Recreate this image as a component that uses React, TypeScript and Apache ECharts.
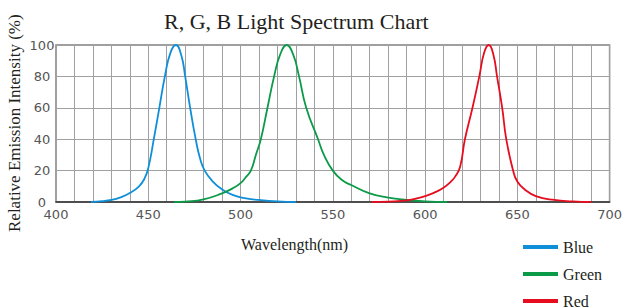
import React, { useEffect, useRef } from "react";
import * as echarts from "echarts";

const seriesNames = ["Blue", "Green", "Red"];
const seriesColors = ["#0f8fd8", "#0b9a48", "#e60d1e"];

// [wavelength nm, relative intensity %]
const blueSpectrum: number[][] = [
  [419, 0], [425, 0.5], [430, 1.3], [435, 3], [440, 5.7], [445, 10], [448, 15],
  [450, 21.6], [453, 40], [456, 60], [459, 80], [462, 95], [465, 100], [468, 93],
  [470, 80], [472.7, 60], [475.7, 40], [478, 28], [480.6, 20], [485, 13], [490, 8],
  [495.7, 4.5], [503, 2.3], [510, 1.3], [520, 0.4], [530, 0],
];
const greenSpectrum: number[][] = [
  [464, 0], [470, 0.3], [480, 1.7], [490, 5.5], [495.7, 8.7], [500, 12], [503, 16],
  [505.6, 20], [508.3, 30], [511, 40], [514.6, 60], [518.2, 80], [521.5, 94],
  [525, 100], [528.5, 94], [531.7, 80], [535.6, 60], [542, 40], [545.2, 30],
  [550, 20], [555, 14], [560, 10.8], [570, 5.5], [580, 2.8], [590, 1.3],
  [600, 0.4], [612, 0],
];
const redSpectrum: number[][] = [
  [571, 0], [580, 0.3], [590, 1], [596, 2.5], [600, 3.8], [605, 6], [610, 9.1],
  [614, 13], [616.2, 16], [619, 22.5], [621.6, 40], [625.7, 60], [629.4, 80],
  [632, 95], [634.5, 100], [637, 94], [639, 80], [641.8, 60], [644, 40],
  [647.7, 20], [650, 13], [654, 8], [660, 3.8], [670, 1.3], [680, 0.4], [690, 0],
];
const spectra = [blueSpectrum, greenSpectrum, redSpectrum];

const xMin = 400;
const xMax = 700;
const xLabelStep = 50;
const yTicks = [0, 20, 40, 60, 80, 100];

const titleText = "R, G, B Light Spectrum Chart";
const xName = "Wavelength(nm)";
const yName = "Relative Emission Intensity (%)";

export default function App() {
  const ref = useRef<HTMLDivElement>(null);
  useEffect(() => {
    if (!ref.current) return;
    const chart = echarts.init(ref.current, undefined, { renderer: "svg" });
    const serif = "Liberation Serif";
    const legendTops = [234, 261, 288];
    chart.setOption({
      animation: false,
      backgroundColor: "#ffffff",
      title: {
        text: titleText,
        left: 159,
        top: 5,
        textStyle: { fontFamily: serif, fontSize: 22, fontWeight: "normal", color: "#231f20" },
      },
      legend: seriesNames.map((n, i) => ({
        orient: "vertical",
        left: 518,
        top: legendTops[i],
        itemWidth: 35,
        itemHeight: 4,
        itemGap: 8,
        icon: "rect",
        data: [n],
        textStyle: { fontFamily: serif, fontSize: 16, color: "#231f20" },
      })),
      grid: {
        left: 56,
        right: 13,
        top: 45,
        bottom: 106,
        show: true,
        borderColor: "#808080",
        borderWidth: 1.5,
      },
      xAxis: {
        type: "value",
        min: xMin,
        max: xMax,
        interval: 10,
        axisLine: { show: true, onZero: false, lineStyle: { color: "#333", width: 1.5 } },
        axisTick: { show: false },
        axisLabel: {
          margin: 6,
          fontFamily: "DejaVu Sans",
          fontSize: 13,
          color: "#555",
          formatter: (v: number) => (v % xLabelStep === 0 ? String(v) : ""),
        },
        splitLine: { show: true, lineStyle: { color: "#a0a0a0", width: 1 } },
      },
      yAxis: {
        type: "value",
        min: yTicks[0],
        max: yTicks[yTicks.length - 1],
        interval: 20,
        axisLine: { show: false },
        axisTick: { show: false },
        axisLabel: {
          margin: 14,
          align: "center",
          fontFamily: "DejaVu Sans",
          fontSize: 13,
          color: "#555",
        },
        splitLine: { show: true, lineStyle: { color: "#a0a0a0", width: 1 } },
      },
      graphic: [
        {
          type: "text",
          left: 241,
          top: 236,
          style: { text: xName, fontFamily: serif, fontSize: 16, fill: "#231f20" },
        },
        {
          type: "text",
          x: 6,
          y: 232,
          rotation: Math.PI / 2,
          style: { text: yName, fontFamily: serif, fontSize: 17, fill: "#231f20" },
        },
      ],
      series: spectra.map((d, i) => ({
        name: seriesNames[i],
        type: "line",
        data: d,
        smooth: 0.5,
        showSymbol: false,
        symbol: "none",
        lineStyle: { color: seriesColors[i], width: 1.8 },
        itemStyle: { color: seriesColors[i] },
        z: 3,
      })),
    });
    return () => chart.dispose();
  }, []);
  return <div ref={ref} style={{ width: 625, height: 308, position: "absolute", left: 0, top: 0 }} />;
}
